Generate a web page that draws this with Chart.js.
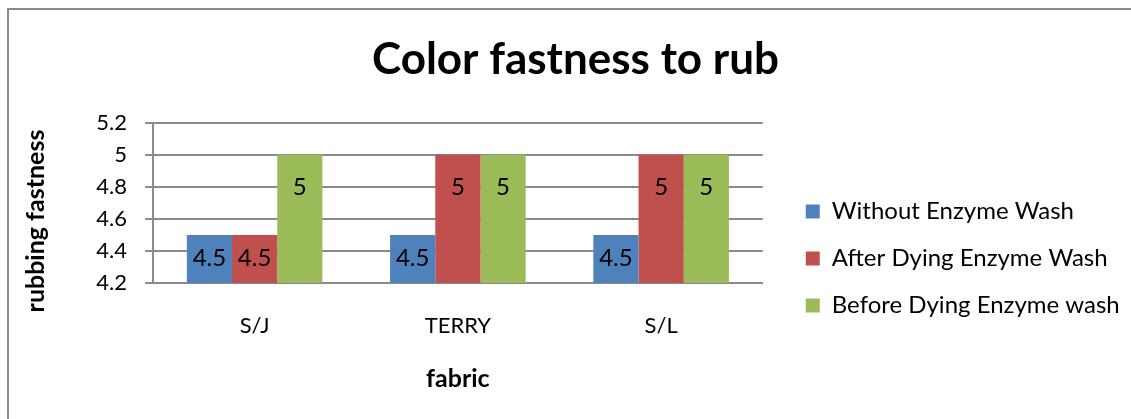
<!DOCTYPE html>
<html>
<head>
<meta charset="utf-8">
<script src="https://cdn.jsdelivr.net/npm/chart.js@4.4.1/dist/chart.umd.min.js"></script>
<style>
   html, body { margin: 0; padding: 0; background: #fff; overflow: hidden; }
   #frame { position: absolute; left: 7px; top: 8px; width: 1200px; height: 500px; border: 2px solid #8a8a8a; }
   #wrap { position: absolute; left: 0; top: 0; width: 1131px; height: 419px; }
</style>
</head>
<body>
<div id="frame"></div>
<div id="wrap"><canvas id="chartCanvas" width="1131" height="419"></canvas></div>
<script>
const FABRICS        = ['S/J', 'TERRY', 'S/L'];
const WITHOUT_WASH   = [4.5, 4.5, 4.5];
const AFTER_DYING    = [4.5, 5, 5];
const BEFORE_DYING   = [5, 5, 5];
const SERIES_NAMES   = ['Without Enzyme Wash', 'After Dying Enzyme Wash', 'Before Dying Enzyme wash'];
const SERIES_COLORS  = ['#4F81BD', '#C0504D', '#9BBB59'];
const Y_MIN = 4.2, Y_MAX = 5.2, Y_STEP = 0.2;
const Y_TITLE = 'rubbing fastness';

const FONT = 'Lato, Calibri, sans-serif';
const GRID = '#8a8a8a';

// labels drawn inside the top of each bar, as Excel's "inside end"
var barLabels = {
   id: 'barLabels',
   afterDatasetsDraw: function (chart) {
      var ctx = chart.ctx;
      var bottom = chart.chartArea.bottom;
      ctx.save();
      ctx.font = '24px ' + FONT;
      ctx.fillStyle = '#000';
      ctx.textAlign = 'center';
      ctx.textBaseline = 'middle';
      chart.data.datasets.forEach(function (ds, i) {
         chart.getDatasetMeta(i).data.forEach(function (bar, j) {
            var h = bottom - bar.y;
            ctx.fillText(String(ds.data[j]), bar.x, bar.y + 17 + 0.123 * h);
         });
      });
      ctx.restore();
   }
};

// y title sits a bit lower than the plot middle in the original
var yTitle = {
   id: 'yTitle',
   afterDraw: function (chart) {
      var ctx = chart.ctx;
      ctx.save();
      ctx.translate(36, 221);
      ctx.rotate(-Math.PI / 2);
      ctx.font = 'bold 25px ' + FONT;
      ctx.fillStyle = '#000';
      ctx.textAlign = 'center';
      ctx.textBaseline = 'middle';
      ctx.fillText(Y_TITLE, 0, 0);
      ctx.restore();
   }
};

// move legend and title where Excel puts them
var nudge = {
   id: 'nudge',
   afterLayout: function (chart) {
      var l = chart.legend;
      l.left += 20; l.right += 140;
      l.top += 43; l.bottom += 43;
      var t = chart.titleBlock;
      t.left += 59; t.right += 59;
   }
};

var datasets = [WITHOUT_WASH, AFTER_DYING, BEFORE_DYING].map(function (values, i) {
   return {
      label: SERIES_NAMES[i],
      data: values,
      backgroundColor: SERIES_COLORS[i],
      borderWidth: 0,
      categoryPercentage: 0.667,
      barPercentage: 1.0
   };
});

new Chart(document.getElementById('chartCanvas'), {
   type: 'bar',
   data: { labels: FABRICS, datasets: datasets },
   plugins: [barLabels, yTitle, nudge],
   options: {
      responsive: false,
      animation: false,
      events: [],
      layout: { padding: { left: 24, right: 122, top: 33, bottom: 21 } },
      plugins: {
         title: {
            display: true,
            text: 'Color fastness to rub',
            color: '#000',
            font: { family: FONT, size: 44, weight: 'bold' },
            padding: { top: 0, bottom: 37 }
         },
         legend: {
            position: 'right',
            labels: {
               color: '#000',
               font: { family: FONT, size: 24 },
               boxWidth: 14,
               boxHeight: 14,
               padding: 23
            }
         },
         tooltip: { enabled: false }
      },
      scales: {
         x: {
            afterFit: function (scale) { scale.height = 419 - 21 - 283; },
            grid: { display: false, drawTicks: false },
            border: { color: GRID, width: 2 },
            ticks: { color: '#000', font: { family: FONT, size: 22 }, padding: 30 },
            title: {
               display: true,
               text: 'fabric',
               color: '#000',
               font: { family: FONT, size: 25, weight: 'bold' },
               padding: { top: 1 }
            }
         },
         y: {
            min: Y_MIN,
            max: Y_MAX,
            afterFit: function (scale) { scale.width = 153 - 24; },
            grid: { color: GRID, lineWidth: 2, tickLength: 8 },
            border: { color: GRID, width: 2 },
            ticks: {
               stepSize: Y_STEP,
               color: '#000',
               font: { family: FONT, size: 22 },
               padding: 18,
               callback: function (v) { return Math.round(v * 10) / 10; }
            }
         }
      }
   }
});
</script>
</body>
</html>
